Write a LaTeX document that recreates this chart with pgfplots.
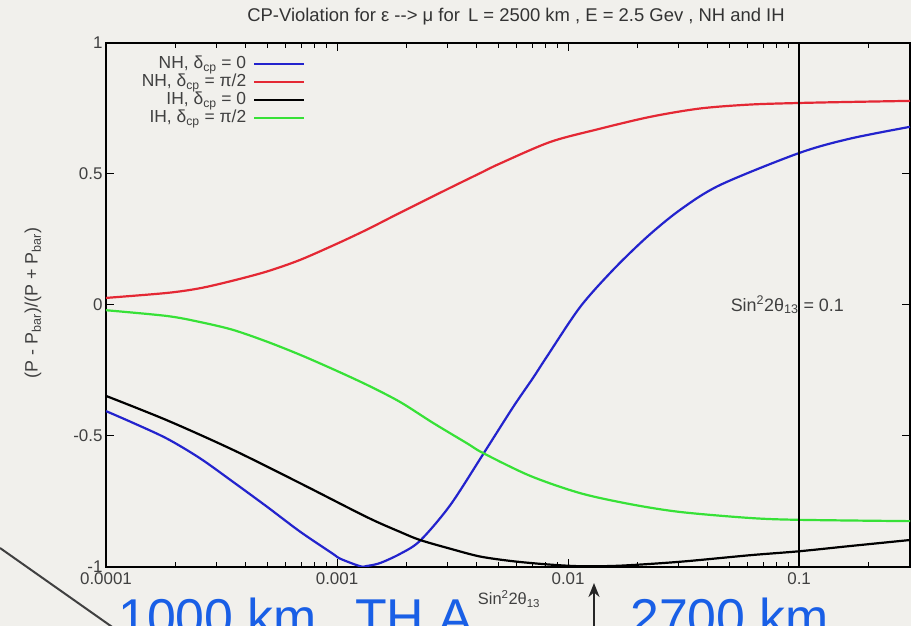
\documentclass[border=0pt]{standalone}
\usepackage{pgfplots}
\pgfplotsset{compat=1.18}
\usepackage{fontspec}
\setmainfont{Liberation Sans}
\usetikzlibrary{arrows.meta}
\definecolor{bg}{RGB}{241,240,236}
\definecolor{cblue}{RGB}{35,35,205}
\definecolor{cred}{RGB}{228,40,52}
\definecolor{cgreen}{RGB}{55,225,55}
\definecolor{slideblue}{RGB}{25,95,230}

\pgfplotstableread{
x y
1e-4 -0.405
1.31e-4 -0.45
1.837e-4 -0.51
2.552e-4 -0.585
3.546e-4 -0.675
4.977e-4 -0.77
6.917e-4 -0.865
9.61e-4 -0.95
1.03e-3 -0.968
1.258e-3 -0.997
1.349e-3 -0.996
1.535e-3 -0.985
1.874e-3 -0.95
2.287e-3 -0.90
3.084e-3 -0.765
4.285e-3 -0.570
5.779e-3 -0.39
7.057e-3 -0.278
8.111e-3 -0.196
1.127e-2 -0.008
1.566e-2 0.134
2.198e-2 0.26
3.054e-2 0.363
4.550e-2 0.458
0.1 0.58
0.1663 0.635
0.302 0.68
}\nhzero

\pgfplotstableread{
x y
1e-4 0.027
1.837e-4 0.046
2.552e-4 0.064
3.546e-4 0.093
4.977e-4 0.128
6.917e-4 0.172
1e-3 0.234
1.349e-3 0.288
1.874e-3 0.352
3.084e-3 0.447
4.159e-3 0.503
5.077e-3 0.540
8.357e-3 0.622
1.335e-2 0.670
2.265e-2 0.718
3.727e-2 0.750
6.136e-2 0.765
0.1 0.771
0.1663 0.775
0.302 0.779
}\nhpi

\pgfplotstableread{
x y
1e-4 -0.347
1.837e-4 -0.44
3.546e-4 -0.553
6.917e-4 -0.68
1.349e-3 -0.81
1.874e-3 -0.866
2.287e-3 -0.897
3.084e-3 -0.93
4.159e-3 -0.96
5.779e-3 -0.978
8.111e-3 -0.99
1.127e-2 -0.997
1.679e-2 -0.995
3.054e-2 -0.98
6.136e-2 -0.955
0.1 -0.94
0.1663 -0.92
0.302 -0.897
}\ihzero

\pgfplotstableread{
x y
1e-4 -0.02
1.837e-4 -0.042
2.552e-4 -0.065
3.546e-4 -0.095
4.977e-4 -0.14
6.917e-4 -0.19
9.61e-4 -0.245
1.349e-3 -0.305
1.874e-3 -0.37
2.603e-3 -0.45
3.654e-3 -0.528
4.285e-3 -0.565
6.847e-3 -0.652
1.127e-2 -0.718
1.855e-2 -0.76
3.054e-2 -0.79
6.136e-2 -0.813
0.1 -0.82
0.302 -0.825
}\ihpi

\begin{document}
\begin{tikzpicture}[x=1bp,y=1bp]
\fill[bg] (0,0) rectangle (911,626);
\path[use as bounding box] (0,0) rectangle (911,626);
\begin{axis}[
  at={(106bp,59bp)}, anchor=south west,
  width=804bp, height=524bp, scale only axis,
  xmode=log, xmin=1e-4, xmax=0.302, ymin=-1, ymax=1,
  axis line style={line width=1.2bp},
  xtick={1e-4,1e-3,1e-2,1e-1}, xticklabels={0.0001,0.001,0.01,0.1},
  minor xtick={2e-4,3e-4,4e-4,5e-4,6e-4,7e-4,8e-4,9e-4,2e-3,3e-3,4e-3,5e-3,6e-3,7e-3,8e-3,9e-3,2e-2,3e-2,4e-2,5e-2,6e-2,7e-2,8e-2,9e-2,0.2},
  ytick={-1,-0.5,0,0.5,1}, yticklabels={-1,-0.5,0,0.5,1},
  tick align=inside, major tick length=8bp, minor tick length=5bp,
  every tick/.style={black, line width=1bp},
  ticklabel style={font=\fontsize{17}{17}\selectfont, text=black!75},
  xticklabel style={yshift=-2bp},
  /pgf/number format/assume math mode=true,
  legend plot pos=right, legend cell align=right,
  legend image code/.code={\draw[#1] (0pt,0pt) -- (50bp,0pt);},
  legend style={draw=none, fill=none, at={(0.252,0.982)}, anchor=north east,
    font=\fontsize{17.5}{17.5}\selectfont, text=black!75, row sep=0bp,
    nodes={inner sep=1bp, text height=13bp, text depth=3bp},
    /tikz/every odd column/.append style={column sep=6bp}},
]
\addplot[cblue, line width=2.2bp, smooth, tension=0.5] table {\nhzero};
\addlegendentry{NH, δ\textsubscript{cp} = 0}
\addplot[cred, line width=2.2bp, smooth, tension=0.5] table {\nhpi};
\addlegendentry{NH, δ\textsubscript{cp} = π/2}
\addplot[black, line width=2.2bp, smooth, tension=0.5] table {\ihzero};
\addlegendentry{IH, δ\textsubscript{cp} = 0}
\addplot[cgreen, line width=2.2bp, smooth, tension=0.5] table {\ihpi};
\addlegendentry{IH, δ\textsubscript{cp} = π/2}
\addplot[black, line width=1.3bp, forget plot] coordinates {(0.1,-1) (0.1,1)};
\node[anchor=west, font=\fontsize{18}{18}\selectfont, text=black!75, inner sep=0pt] at (axis cs:0.0505,0) {Sin\textsuperscript{2}2θ\textsubscript{13} = 0.1};
\end{axis}
\node[font=\fontsize{18.5}{18.5}\selectfont, text=black!80] at (516,609) {CP-Violation for ε {-}{-}> μ for\, L = 2500 km , E = 2.5 Gev , NH and IH};
\node[rotate=90, font=\fontsize{18}{18}\selectfont, text=black!75] at (33,323) {(P - P\textsubscript{bar})/(P + P\textsubscript{bar})};
\node[font=\fontsize{16.5}{16.5}\selectfont, text=black!75] at (509,27) {Sin\textsuperscript{2}2θ\textsubscript{13}};
\draw[line width=2bp, black!75] (0,78) -- (125,-10);
\draw[line width=2.2bp, black!85, -{Stealth[length=14bp,width=11bp]}] (594,-5) -- (594,43);
\node[anchor=base west, text=slideblue, font=\fontsize{52}{52}\selectfont, inner sep=0pt] at (118,-10) {1000 km};
\node[anchor=base west, text=slideblue, font=\fontsize{52}{52}\selectfont, inner sep=0pt] at (355,-10) {TH A};
\node[anchor=base west, text=slideblue, font=\fontsize{52}{52}\selectfont, inner sep=0pt] at (630,-10) {2700 km};
\end{tikzpicture}
\end{document}
